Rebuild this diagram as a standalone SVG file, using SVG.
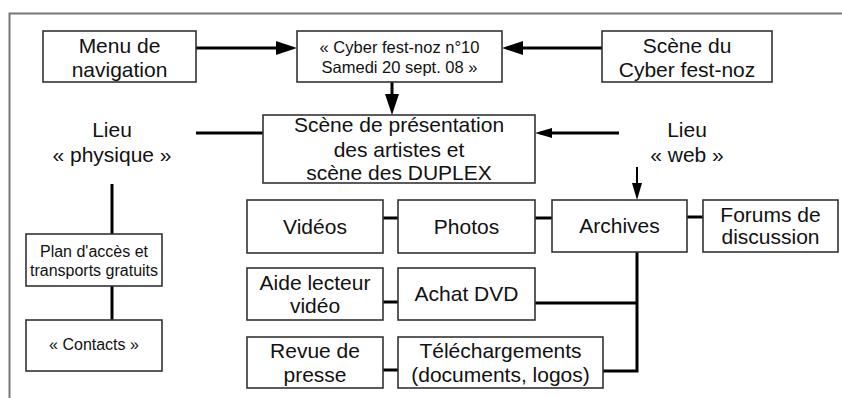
<svg xmlns="http://www.w3.org/2000/svg" width="842" height="398" viewBox="0 0 842 398">
<style>
.box{fill:#fff;stroke:#333;stroke-width:1.6}
.t{font-family:"Liberation Sans",Arial,sans-serif;font-size:21px;fill:#111;text-anchor:middle}
.s{font-size:16.5px}
.ln{fill:none;stroke:#000;stroke-width:3}
.thin{stroke-width:2}
.frame{fill:none;stroke:#777;stroke-width:2}
</style>
<defs>
<marker id="big" markerUnits="userSpaceOnUse" markerWidth="21" markerHeight="15" refX="15" refY="7.5" orient="auto">
<path d="M0,0.5 L21,7.5 L0,14.5 z" fill="#000"/>
</marker>
<marker id="small" markerUnits="userSpaceOnUse" markerWidth="17" markerHeight="11" refX="12" refY="5.5" orient="auto">
<path d="M0,0.5 L17,5.5 L0,10.5 z" fill="#000"/>
</marker>
</defs>
<path class="frame" d="M842,13.5 H9.5 V398"/>
<g id="connectors">
<line class="ln" x1="196" y1="48" x2="291" y2="48" marker-end="url(#big)"/>
<line class="ln" x1="602" y1="48" x2="508" y2="48" marker-end="url(#big)"/>
<line class="ln" x1="392" y1="82" x2="392" y2="109" marker-end="url(#big)"/>
<line class="ln" x1="196" y1="133" x2="263" y2="133"/>
<line class="ln" x1="619" y1="133" x2="540" y2="133" marker-end="url(#small)"/>
<line class="ln thin" x1="637" y1="167" x2="637" y2="195" marker-end="url(#small)"/>
<line class="ln" x1="112" y1="184" x2="112" y2="234"/>
<line class="ln" x1="112" y1="286" x2="112" y2="320"/>
<line class="ln" x1="383" y1="218" x2="398" y2="218"/>
<line class="ln" x1="535" y1="218" x2="552" y2="218"/>
<line class="ln" x1="687" y1="217" x2="703" y2="217"/>
<path class="ln" d="M637,252 V371 H603"/>
<line class="ln" x1="535" y1="303" x2="637" y2="303"/>
<line class="ln" x1="383" y1="302" x2="398" y2="302"/>
<line class="ln" x1="383" y1="370" x2="398" y2="370"/>
</g>
<g id="menu"><rect class="box" x="43" y="31" width="153" height="51"/>
<text class="t" x="119.5" y="53">Menu de</text><text class="t" x="119.5" y="77">navigation</text></g>
<g id="cyber"><rect class="box" x="297" y="31" width="205" height="51"/>
<text class="t s" x="399.5" y="53">« Cyber fest-noz n°10</text><text class="t s" x="399.5" y="73">Samedi 20 sept. 08 »</text></g>
<g id="scene-cyber"><rect class="box" x="602" y="31" width="170" height="51"/>
<text class="t" x="687" y="53">Scène du</text><text class="t" x="687" y="77">Cyber fest-noz</text></g>
<g id="scene-presentation"><rect class="box" x="263" y="115" width="272" height="68"/>
<text class="t" x="399" y="132">Scène de présentation</text><text class="t" x="399" y="157">des artistes et</text><text class="t" x="399" y="180">scène des DUPLEX</text></g>
<g id="lieu-physique"><text class="t" x="112" y="137">Lieu</text><text class="t" x="112" y="162">« physique »</text></g>
<g id="lieu-web"><text class="t" x="687" y="137">Lieu</text><text class="t" x="687" y="162">« web »</text></g>
<g id="plan"><rect class="box" x="26" y="234" width="136" height="52"/>
<text class="t" style="font-size:16px" x="94" y="257">Plan d'accès et</text><text class="t" style="font-size:16px" x="94" y="276">transports gratuits</text></g>
<g id="contacts"><rect class="box" x="26" y="320" width="136" height="51"/>
<text class="t" style="font-size:16px" x="94" y="350">« Contacts »</text></g>
<g id="videos"><rect class="box" x="247" y="200" width="136" height="53"/>
<text class="t" x="315" y="234">Vidéos</text></g>
<g id="photos"><rect class="box" x="398" y="200" width="137" height="53"/>
<text class="t" x="466.5" y="234">Photos</text></g>
<g id="archives"><rect class="box" x="552" y="200" width="135" height="52"/>
<text class="t" x="619.5" y="233">Archives</text></g>
<g id="forums"><rect class="box" x="703" y="200" width="135" height="52"/>
<text class="t" x="770.5" y="222">Forums de</text><text class="t" x="770.5" y="244">discussion</text></g>
<g id="aide"><rect class="box" x="247" y="268" width="136" height="52"/>
<text class="t" x="315" y="290">Aide lecteur</text><text class="t" x="315" y="313">vidéo</text></g>
<g id="achat"><rect class="box" x="398" y="268" width="137" height="52"/>
<text class="t" x="466.5" y="301">Achat DVD</text></g>
<g id="revue"><rect class="box" x="247" y="337" width="136" height="51"/>
<text class="t" x="315" y="358">Revue de</text><text class="t" x="315" y="382">presse</text></g>
<g id="telechargements"><rect class="box" x="398" y="337" width="205" height="51"/>
<text class="t" x="500.5" y="358">Téléchargements</text><text class="t" x="500.5" y="382">(documents, logos)</text></g>
</svg>
